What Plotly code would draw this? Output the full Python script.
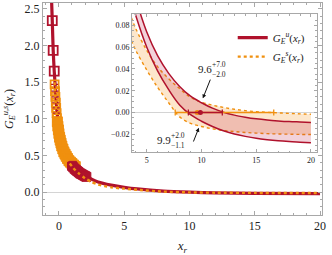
import plotly.graph_objects as go

RED = "#B0122C"
ORANGE = "#F0900F"
SERIF = "Liberation Serif"

# ---------------- main panel data ----------------
u_fit_x = [-0.57, -0.51, -0.44, -0.36, -0.30, -0.22, -0.14, -0.04, 0.10, 0.25, 0.45, 0.70, 1.0, 1.3, 1.6, 2.0, 2.5, 3.0, 4.0, 5.0, 6.0, 8.0, 10.0, 12.0, 15.0, 20.0]
u_fit_y = [2.65, 2.34, 1.94, 1.65, 1.49, 1.29, 1.10, 0.92, 0.76, 0.64, 0.53, 0.45, 0.38, 0.32, 0.28, 0.23, 0.18, 0.14, 0.097, 0.067, 0.045, 0.016, 0.001, -0.008, -0.014, -0.018]

s_fit_x = [-0.33, -0.25, -0.15, -0.05, 0.1, 0.3, 0.5, 0.8, 1.1, 1.5, 2.0, 2.5, 3.0, 4.0, 5.0, 6.0, 8.0, 10.0, 12.0, 15.0, 20.0]
s_fit_y = [1.50, 1.22, 1.00, 0.84, 0.68, 0.56, 0.48, 0.40, 0.33, 0.26, 0.19, 0.14, 0.105, 0.067, 0.049, 0.033, 0.009, -0.002, -0.006, -0.009, -0.011]

u_sq_x = [-0.51, -0.44, -0.36]
u_sq_y = [2.34, 1.935, 1.65]

s_open_x = [-0.33, -0.30, -0.27, -0.24, -0.21, -0.18, -0.15]
s_open_y = [1.47, 1.38, 1.30, 1.22, 1.15, 1.08, 1.01]

s_fill_x = [-0.12, -0.08, -0.04, 0.0, 0.05, 0.10, 0.16, 0.22, 0.30, 0.38, 0.47, 0.56, 0.66, 0.77, 0.88, 1.0, 1.12, 1.25]
s_fill_y = [0.96, 0.90, 0.85, 0.80, 0.75, 0.71, 0.67, 0.63, 0.59, 0.55, 0.52, 0.49, 0.46, 0.43, 0.41, 0.39, 0.37, 0.35]

u_blob_x = [1.0, 1.1, 1.2, 1.3, 1.4, 1.5, 1.6, 1.7, 1.8, 1.9, 2.0, 2.1]
u_blob_y = [0.36, 0.34, 0.32, 0.305, 0.29, 0.275, 0.26, 0.25, 0.24, 0.23, 0.22, 0.21]

# ---------------- inset data ----------------
band_x = [3.6, 4, 5, 6, 7, 8, 9, 10, 11, 12, 13, 14, 15, 16, 17, 18, 19, 20]
u_hi = [0.118, 0.104, 0.074, 0.052, 0.036, 0.024, 0.015, 0.009, 0.004, 0.0003, -0.0024, -0.0043, -0.0058, -0.0069, -0.0077, -0.0083, -0.0087, -0.0091]
u_lo = [0.103, 0.089, 0.060, 0.038, 0.021, 0.007, -0.002, -0.008, -0.0128, -0.0168, -0.0197, -0.0219, -0.0237, -0.0250, -0.0260, -0.0267, -0.0272, -0.0277]
s_hi = [0.087, 0.077, 0.057, 0.042, 0.031, 0.022, 0.014, 0.0095, 0.0068, 0.0047, 0.003, 0.0017, 0.0008, 0.0002, -0.0003, -0.0008, -0.0012, -0.0016]
s_lo = [0.066, 0.057, 0.039, 0.023, 0.009, -0.004, -0.010, -0.0128, -0.0150, -0.0165, -0.0175, -0.0183, -0.0189, -0.0194, -0.0197, -0.0199, -0.0201, -0.0202]

u_zero, u_err_plus, u_err_minus = 9.9, 2.0, 1.1
s_zero, s_err_plus, s_err_minus = 9.6, 7.0, 2.0

fig = go.Figure()

# main panel
fig.add_trace(go.Scatter(x=u_fit_x, y=u_fit_y, mode="lines", line=dict(color=RED, width=3.2, shape="spline", smoothing=0.6),
                         name="<i>G</i><sub><i>E</i></sub><sup><i>u</i></sup>(<i>x</i><sub><i>r</i></sub>)", showlegend=True))
fig.add_trace(go.Scatter(x=s_open_x, y=s_open_y, mode="markers", showlegend=False,
                         marker=dict(symbol="square-open", size=8, color=ORANGE, line=dict(width=1.8, color=ORANGE))))
fig.add_trace(go.Scatter(x=s_open_x, y=s_open_y, mode="markers", showlegend=False,
                         marker=dict(symbol="cross-thin-open", size=5, color=RED, line=dict(width=1.2, color=RED))))
fig.add_trace(go.Scatter(x=s_fill_x, y=s_fill_y, mode="markers", showlegend=False,
                         marker=dict(symbol="square", size=10, color=ORANGE, line=dict(width=1, color=ORANGE))))
fig.add_trace(go.Scatter(x=u_blob_x, y=u_blob_y, mode="markers", showlegend=False,
                         marker=dict(symbol="square", size=9, color=RED, line=dict(width=1, color=RED))))
fig.add_trace(go.Scatter(x=s_fit_x, y=s_fit_y, mode="lines", line=dict(color=ORANGE, width=2.4, dash="dot", shape="spline", smoothing=0.6),
                         name="<i>G</i><sub><i>E</i></sub><sup><i>s</i></sup>(<i>x</i><sub><i>r</i></sub>)", showlegend=True))
fig.add_trace(go.Scatter(x=u_sq_x, y=u_sq_y, mode="markers", showlegend=False,
                         marker=dict(symbol="square-open", size=9, color=RED, line=dict(width=1.8, color=RED))))

# inset bands
fig.add_trace(go.Scatter(x=band_x, y=s_lo, xaxis="x2", yaxis="y2", mode="lines", showlegend=False,
                         line=dict(color=ORANGE, width=1.4, dash="dot", shape="spline")))
fig.add_trace(go.Scatter(x=band_x, y=s_hi, xaxis="x2", yaxis="y2", mode="lines", showlegend=False, fill="tonexty",
                         fillcolor="rgba(248,160,50,0.25)", line=dict(color=ORANGE, width=1.4, dash="dot", shape="spline")))
fig.add_trace(go.Scatter(x=band_x, y=u_lo, xaxis="x2", yaxis="y2", mode="lines", showlegend=False,
                         line=dict(color=RED, width=1.5, shape="spline")))
fig.add_trace(go.Scatter(x=band_x, y=u_hi, xaxis="x2", yaxis="y2", mode="lines", showlegend=False, fill="tonexty",
                         fillcolor="rgba(190,30,70,0.2)", line=dict(color=RED, width=1.5, shape="spline")))

# zero crossings with asymmetric errors
fig.add_trace(go.Scatter(x=[s_zero], y=[0], xaxis="x2", yaxis="y2", mode="markers", showlegend=False,
                         marker=dict(color=ORANGE, size=5),
                         error_x=dict(type="data", symmetric=False, array=[s_err_plus], arrayminus=[s_err_minus],
                                      color=ORANGE, thickness=1.3, width=3)))
fig.add_trace(go.Scatter(x=[u_zero], y=[0], xaxis="x2", yaxis="y2", mode="markers", showlegend=False,
                         marker=dict(color=RED, size=5),
                         error_x=dict(type="data", symmetric=False, array=[u_err_plus], arrayminus=[u_err_minus],
                                      color=RED, thickness=1.3, width=3)))

axis_common = dict(showline=True, mirror="ticks", linecolor="#a8a8a8", linewidth=1, ticks="inside",
                   tickcolor="#a8a8a8", showgrid=False)

fig.update_layout(
    width=332, height=255,
    margin=dict(l=43, r=10, t=3, b=40),
    paper_bgcolor="white", plot_bgcolor="white",
    font=dict(family=SERIF, color="#222"),
    xaxis=dict(range=[-1.22, 20.15], tickvals=[0, 5, 10, 15, 20], ticklen=4, zeroline=False,
               minor=dict(dtick=1, ticklen=2, ticks="inside", tickcolor="#a8a8a8"),
               tickfont=dict(size=12, family=SERIF),
               title=dict(text="<i>x</i><sub><i>r</i></sub>", font=dict(size=13, family=SERIF), standoff=8),
               **axis_common),
    yaxis=dict(range=[-0.31, 2.58], tickvals=[0, 0.5, 1.0, 1.5, 2.0, 2.5], tickformat=".1f", ticklen=4,
               zeroline=True, zerolinecolor="#d4d4d4", zerolinewidth=1,
               minor=dict(dtick=0.1, ticklen=2, ticks="inside", tickcolor="#a8a8a8"),
               tickfont=dict(size=12, family=SERIF),
               title=dict(text="<i>G</i><sub><i>E</i></sub><sup><i>u,s</i></sup>(<i>x</i><sub><i>r</i></sub>)",
                          font=dict(size=12, family=SERIF), standoff=8),
               **axis_common),
    xaxis2=dict(domain=[0.319, 0.982], anchor="y2", range=[3.65, 20.55], tickvals=[5, 10, 15, 20], ticklen=3,
                zeroline=False, minor=dict(dtick=1, ticklen=1.5, ticks="inside", tickcolor="#a8a8a8"),
                tickfont=dict(size=8, family=SERIF), **axis_common),
    yaxis2=dict(domain=[0.297, 0.948], anchor="x2", range=[-0.0363, 0.0905],
                tickvals=[-0.02, 0, 0.02, 0.04, 0.06, 0.08], tickformat=".2f", ticklen=3,
                zeroline=True, zerolinecolor="#d4d4d4", zerolinewidth=1,
                minor=dict(dtick=0.005, ticklen=1.5, ticks="inside", tickcolor="#a8a8a8"),
                tickfont=dict(size=8, family=SERIF), **axis_common),
    legend=dict(x=0.68, y=0.905, xanchor="left", yanchor="top", bgcolor="rgba(0,0,0,0)",
                font=dict(size=11, family=SERIF), tracegroupgap=0, traceorder="normal"),
)

ann = []
# arrows
ann.append(dict(x=10.12, y=0.013, ax=10.86, ay=0.0316, xref="x2", yref="y2", axref="x2", ayref="y2",
                text="", showarrow=True, arrowhead=2, arrowsize=0.8, arrowwidth=1, arrowcolor="#111"))
ann.append(dict(x=9.76, y=-0.014, ax=9.21, ay=-0.028, xref="x2", yref="y2", axref="x2", ayref="y2",
                text="", showarrow=True, arrowhead=2, arrowsize=0.8, arrowwidth=1, arrowcolor="#111"))
# labels
ann.append(dict(x=10.35, y=0.040, xref="x2", yref="y2", text="9.6", showarrow=False,
                font=dict(size=11, family=SERIF, color="#222")))
ann.append(dict(x=11.6, y=0.0442, xref="x2", yref="y2", text="+7.0", showarrow=False,
                font=dict(size=7.5, family=SERIF, color="#222")))
ann.append(dict(x=11.6, y=0.0348, xref="x2", yref="y2", text="−2.0", showarrow=False,
                font=dict(size=7.5, family=SERIF, color="#222")))
ann.append(dict(x=6.6, y=-0.0251, xref="x2", yref="y2", text="9.9", showarrow=False,
                font=dict(size=11, family=SERIF, color="#222")))
ann.append(dict(x=7.85, y=-0.0212, xref="x2", yref="y2", text="+2.0", showarrow=False,
                font=dict(size=7.5, family=SERIF, color="#222")))
ann.append(dict(x=7.85, y=-0.0300, xref="x2", yref="y2", text="−1.1", showarrow=False,
                font=dict(size=7.5, family=SERIF, color="#222")))
fig.update_layout(annotations=ann)

fig.write_html("out.html", config={"displayModeBar": False},
               post_script="document.body.style.margin='0';")
